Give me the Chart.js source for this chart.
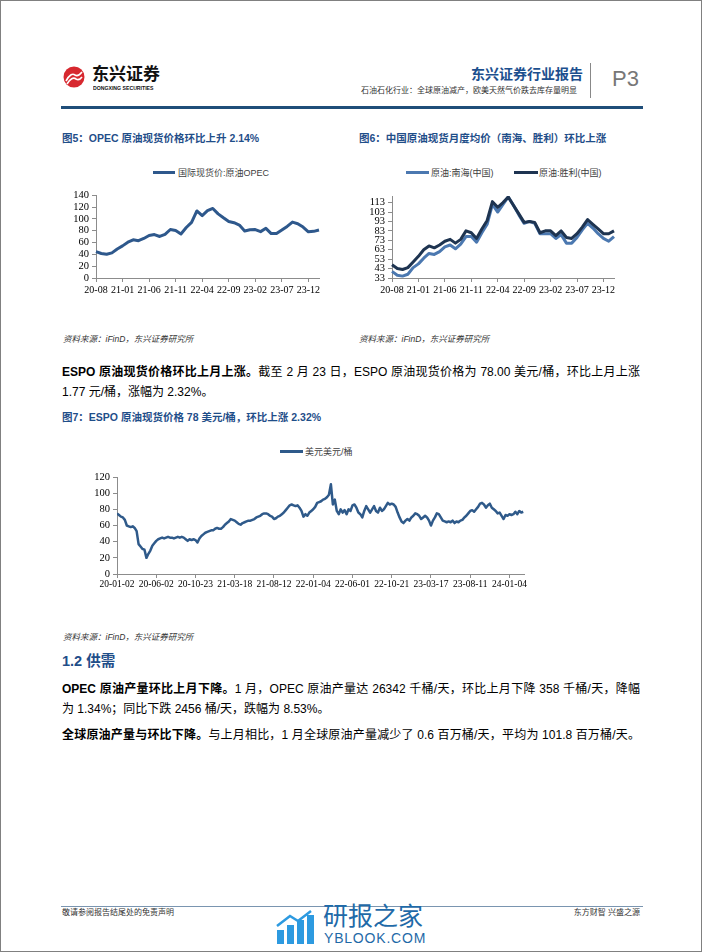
<!DOCTYPE html>
<html lang="zh-CN">
<head>
<meta charset="utf-8">
<title>东兴证券行业报告 P3</title>
<script src="https://cdn.jsdelivr.net/npm/chart.js@4.4.1/dist/chart.umd.min.js"></script>
<style>
  html, body { margin: 0; padding: 0; background: #fff; }
  body { width: 702px; height: 952px; overflow: hidden; font-family: "Liberation Sans", "Noto Sans CJK SC", sans-serif; color: #000; }
  .page { position: relative; width: 702px; height: 952px; box-sizing: border-box; border: 1px solid #808080; }
  .abs { position: absolute; white-space: nowrap; }
  .fig-title { font-size: 10.5px; font-weight: bold; color: #1f4e89; line-height: 14px; }
  .source { font-size: 8.5px; font-style: italic; color: #333; line-height: 12px; }
  .legend-line { position: absolute; height: 3px; }
  .legend-text { font-size: 9px; color: #404040; line-height: 12px; }
  .para { position: absolute; left: 61px; width: 578px; font-size: 12px; line-height: 20px; text-align: justify; text-align-last: justify; white-space: nowrap; }
  .para.last { text-align-last: left; }
  .para b { font-weight: bold; }
  canvas { position: absolute; }
</style>
</head>
<body>
<div class="page">
  <!-- header -->
  <svg class="abs" style="left:62px;top:65px" width="22" height="22" viewBox="0 0 22 22">
    <circle cx="11" cy="11" r="10.5" fill="#d7282f"/>
    <path d="M3 15 Q8 6 12 9 Q15 11 19 6" stroke="#fff" stroke-width="1.6" fill="none"/>
    <path d="M4 18 Q9 10 13 13 Q16 15 19 11" stroke="#fff" stroke-width="1.6" fill="none"/>
  </svg>
  <div class="abs" style="left:91px;top:63px;font-size:17px;font-weight:bold;line-height:22px;color:#111">东兴证券</div>
  <div class="abs" style="left:92px;top:84px;font-size:6px;font-weight:bold;line-height:7px;color:#111;transform:scaleX(0.86);transform-origin:left">DONGXING SECURITIES</div>
  <div class="abs" style="right:118px;top:64px;font-size:14px;font-weight:bold;line-height:18px;color:#1c4f8e">东兴证券行业报告</div>
  <div class="abs" style="right:124px;top:85px;font-size:8px;line-height:10px;color:#333">石油石化行业：全球原油减产，欧美天然气价跌去库存量明显</div>
  <div class="abs" style="left:589px;top:62px;width:1px;height:35px;background:#888"></div>
  <div class="abs" style="left:611px;top:65px;font-size:22px;line-height:26px;color:#777">P3</div>
  <div class="abs" style="left:60px;top:105px;width:582px;height:2.5px;background:#1f4e79"></div>

  <!-- figures 5 and 6 -->
  <div class="abs fig-title" style="left:61px;top:130px">图5：OPEC 原油现货价格环比上升 2.14%</div>
  <div class="abs fig-title" style="left:358px;top:130px">图6：中国原油现货月度均价（南海、胜利）环比上涨</div>

  <div class="legend-line" style="left:152px;top:170px;width:22px;background:#2e588c"></div>
  <div class="abs legend-text" style="left:177px;top:166px">国际现货价:原油OPEC</div>

  <div class="legend-line" style="left:405px;top:170px;width:23px;background:#4b78b0"></div>
  <div class="abs legend-text" style="left:430px;top:166px">原油:南海(中国)</div>
  <div class="legend-line" style="left:513px;top:170px;width:24px;background:#1e3451"></div>
  <div class="abs legend-text" style="left:538px;top:166px">原油:胜利(中国)</div>

  <canvas id="opecChart" width="270" height="112" style="left:55px;top:185px"></canvas>
  <canvas id="chinaChart" width="270" height="112" style="left:350px;top:185px"></canvas>

  <div class="abs source" style="left:62px;top:332px">资料来源：iFinD，东兴证券研究所</div>
  <div class="abs source" style="left:358px;top:332px">资料来源：iFinD，东兴证券研究所</div>

  <div class="para" style="top:361px"><b>ESPO 原油现货价格环比上月上涨。</b>截至 2 月 23 日，ESPO 原油现货价格为 78.00 美元/桶，环比上月上涨</div>
  <div class="para last" style="top:381px">1.77 元/桶，涨幅为 2.32%。</div>

  <!-- figure 7 -->
  <div class="abs fig-title" style="left:61px;top:409px">图7：ESPO 原油现货价格 78 美元/桶，环比上涨 2.32%</div>
  <div class="legend-line" style="left:279px;top:449px;width:23px;background:#2f5a8a"></div>
  <div class="abs legend-text" style="left:304px;top:445px">美元美元/桶</div>
  <canvas id="espoChart" width="455" height="125" style="left:75px;top:465px"></canvas>
  <div class="abs source" style="left:62px;top:630px">资料来源：iFinD，东兴证券研究所</div>

  <!-- section 1.2 -->
  <div class="abs" style="left:61px;top:650px;font-size:14.5px;font-weight:bold;line-height:20px;color:#1f4e89">1.2 供需</div>
  <div class="para" style="top:678px"><b>OPEC 原油产量环比上月下降。</b>1 月，OPEC 原油产量达 26342 千桶/天，环比上月下降 358 千桶/天，降幅</div>
  <div class="para last" style="top:698px">为 1.34%；同比下跌 2456 桶/天，跌幅为 8.53%。</div>
  <div class="para" style="top:724px"><b>全球原油产量与环比下降。</b>与上月相比，1 月全球原油产量减少了 0.6 百万桶/天，平均为 101.8 百万桶/天。</div>

  <!-- footer -->
  <div class="abs" style="left:60px;top:905px;width:582px;height:1px;background:#7a95b0"></div>
  <div class="abs" style="left:61px;top:907px;font-size:8px;line-height:10px;color:#333">敬请参阅报告结尾处的免责声明</div>
  <div class="abs" style="right:61px;top:907px;font-size:8px;line-height:10px;color:#333">东方财智 兴盛之源</div>
  <svg class="abs" style="left:275px;top:909px" width="40" height="34" viewBox="0 0 40 34">
    <rect x="1" y="20" width="7" height="14" fill="#2d9ae0"/>
    <rect x="11" y="15" width="7" height="19" fill="#2d9ae0"/>
    <rect x="21" y="10" width="7" height="24" fill="#2d9ae0"/>
    <rect x="31" y="5" width="7" height="29" fill="#2d9ae0"/>
    <path d="M1 16 L14 6 L22 11 L35 1" stroke="#2d9ae0" stroke-width="2.5" fill="none"/>
  </svg>
  <div class="abs" style="left:322px;top:901px;font-size:25px;line-height:28px;color:#1f6aa8">研报之家</div>
  <div class="abs" style="left:323px;top:929px;font-size:14px;line-height:16px;color:#1f6aa8;letter-spacing:0.8px">YBLOOK.COM</div>
</div>

<script>
// monthly categories shared by figures 5 and 6
const months = [
  "20-08", "20-09", "20-10", "20-11", "20-12",
  "21-01", "21-02", "21-03", "21-04", "21-05", "21-06", "21-07", "21-08", "21-09", "21-10", "21-11", "21-12",
  "22-01", "22-02", "22-03", "22-04", "22-05", "22-06", "22-07", "22-08", "22-09", "22-10", "22-11", "22-12",
  "23-01", "23-02", "23-03", "23-04", "23-05", "23-06", "23-07", "23-08", "23-09", "23-10", "23-11", "23-12",
  "24-01", "24-02",
];

// fig 5: OPEC basket, USD/bbl
const opecPrice = [
  44.6, 41.5, 40.1, 42.6, 49.2,
  54.4, 60.6, 64.6, 63.2, 66.9, 71.9, 73.5, 70.3, 73.9, 82.1, 80.4, 74.4,
  85.4, 94.2, 113.5, 105.6, 113.9, 117.7, 108.6, 101.9, 95.6, 93.6, 89.7, 79.7,
  81.6, 82.0, 78.5, 84.1, 75.2, 75.2, 81.1, 87.3, 94.6, 91.9, 86.2, 78.1,
  79.0, 81.2,
];

// fig 6: China crude, 南海 and 胜利
const nanhaiPrice = [
  40, 36, 35, 37, 44,
  48, 54, 59, 58, 61, 66, 68, 64, 69, 77, 77, 71,
  81, 90, 111, 103, 111, 119, 110, 100, 91, 93, 91, 80,
  80, 80, 75, 79, 70, 70, 76, 84, 91, 86, 80, 75,
  72, 77,
];
const shengliPrice = [
  47, 43, 42, 44, 50,
  56, 63, 67, 65, 68, 72, 74, 70, 74, 83, 81, 75,
  85, 94, 114, 108, 113, 119, 110, 101, 92, 93, 92, 81,
  83, 83, 78, 83, 76, 75, 80, 87, 95, 90, 85, 80,
  80, 83,
];
const chinaTicks = [33, 43, 53, 63, 73, 83, 93, 103, 113];

// fig 7: ESPO, one reading every 5 trading days from 20-01-02
const espoStep = 5;
const espoLastDay = 1037;
const espoPrice = [
  75, 73, 71, 70, 67, 60, 59, 58, 59, 57,
  53, 37, 34, 31, 30, 20, 25, 29, 35, 38,
  41, 43, 44, 45, 44, 45, 46, 45, 45, 44,
  45, 46, 45, 46, 45, 43, 41, 43, 42, 43,
  42, 39, 44, 47, 49, 51, 52, 53, 54, 54,
  56, 57, 56, 56, 58, 61, 63, 65, 68, 67,
  66, 64, 62, 61, 63, 64, 65, 66, 66, 67,
  68, 70, 71, 72, 74, 75, 75, 74, 72, 71,
  68, 69, 71, 72, 74, 76, 79, 82, 85, 86,
  85, 84, 85, 82, 78, 71, 74, 72, 76, 78,
  80, 83, 88, 89, 90, 92, 93, 95, 98, 111,
  86, 92, 78, 74, 80, 76, 79, 74, 80, 78,
  85, 86, 82, 76, 74, 70, 78, 84, 80, 76,
  80, 84, 78, 76, 82, 78, 80, 84, 88, 86,
  87, 86, 83, 76, 70, 65, 63, 66, 68, 66,
  70, 72, 75, 74, 72, 68, 70, 72, 70, 66,
  60, 66, 70, 75, 74, 70, 66, 65, 64, 65,
  64, 66, 63, 65, 64, 66, 67, 70, 72, 75,
  78, 79, 77, 80, 83, 87, 88, 86, 82, 85,
  87, 82, 80, 78, 75, 76, 72, 68, 73, 72,
  74, 73, 74, 77, 74, 78, 76, 77,
];
const espoTickDays = [0, 100, 200, 300, 400, 500, 600, 700, 800, 900, 1000];
const espoTickLabels = [
  "20-01-02", "20-06-02", "20-10-23", "21-03-18", "21-08-12", "22-01-04",
  "22-06-01", "22-10-21", "23-03-17", "23-08-11", "24-01-04",
];

const axisColor = "#8c8c8c";
const yFont = { family: "Liberation Serif", size: 10.5 };
const xFont = { family: "Liberation Serif", size: 10 };

function yAxis(min, max, step, width) {
  return {
    min: min,
    max: max,
    ticks: { stepSize: step, autoSkip: false, color: "#000", font: yFont, padding: 3 },
    grid: { drawOnChartArea: false, drawTicks: true, tickLength: 4, color: axisColor },
    border: { display: true, color: axisColor },
    afterFit: (scale) => { scale.width = width; },
  };
}

function monthAxis() {
  return {
    type: "category",
    offset: false,
    ticks: {
      autoSkip: false,
      maxRotation: 0,
      color: "#000",
      font: xFont,
      padding: 2,
      callback: (value, index) => (index % 5 === 0 ? months[index] : null),
    },
    grid: { drawOnChartArea: false, tickLength: 4, color: axisColor, offset: false },
    border: { display: true, color: axisColor },
    afterFit: (scale) => { scale.height = 20; },
  };
}

function baseOptions(padding, scales) {
  return {
    responsive: false,
    animation: false,
    layout: { padding: padding },
    elements: { point: { radius: 0 }, line: { tension: 0, borderJoinStyle: "round" } },
    plugins: { legend: { display: false }, tooltip: { enabled: false } },
    scales: scales,
  };
}

new Chart(document.getElementById("opecChart"), {
  type: "line",
  data: {
    labels: months,
    datasets: [{ label: "国际现货价:原油OPEC", data: opecPrice, borderColor: "#2e588c", borderWidth: 3 }],
  },
  options: baseOptions({ top: 9, right: 7, left: 0, bottom: 0 }, {
    x: monthAxis(),
    y: yAxis(0, 140, 20, 40),
  }),
});

const chinaY = yAxis(33, 120, 10, 41);
chinaY.afterBuildTicks = (scale) => {
  scale.ticks = chinaTicks.map((v) => ({ value: v }));
};

new Chart(document.getElementById("chinaChart"), {
  type: "line",
  data: {
    labels: months,
    datasets: [
      { label: "原油:南海(中国)", data: nanhaiPrice, borderColor: "#4b78b0", borderWidth: 3, order: 1 },
      { label: "原油:胜利(中国)", data: shengliPrice, borderColor: "#1e3451", borderWidth: 3, order: 0 },
    ],
  },
  options: baseOptions({ top: 10, right: 7, left: 0, bottom: 0 }, {
    x: monthAxis(),
    y: chinaY,
  }),
});

new Chart(document.getElementById("espoChart"), {
  type: "line",
  data: {
    datasets: [{
      label: "美元美元/桶",
      data: espoPrice.map((v, i) => ({ x: i * espoStep, y: v })),
      borderColor: "#2f5a8a",
      borderWidth: 2.5,
    }],
  },
  options: baseOptions({ top: 11, right: 7, left: 0, bottom: 0 }, {
    x: {
      type: "linear",
      min: 0,
      max: espoLastDay,
      afterBuildTicks: (scale) => {
        scale.ticks = espoTickDays.map((v) => ({ value: v }));
      },
      ticks: {
        autoSkip: false,
        maxRotation: 0,
        color: "#000",
        font: { family: "Liberation Serif", size: 9.5 },
        padding: 1,
        callback: (value) => espoTickLabels[espoTickDays.indexOf(value)],
      },
      grid: { drawOnChartArea: false, tickLength: 4, color: axisColor },
      border: { display: true, color: axisColor },
      afterFit: (scale) => { scale.height = 17; },
    },
    y: yAxis(0, 120, 20, 41),
  }),
});
</script>
</body>
</html>
